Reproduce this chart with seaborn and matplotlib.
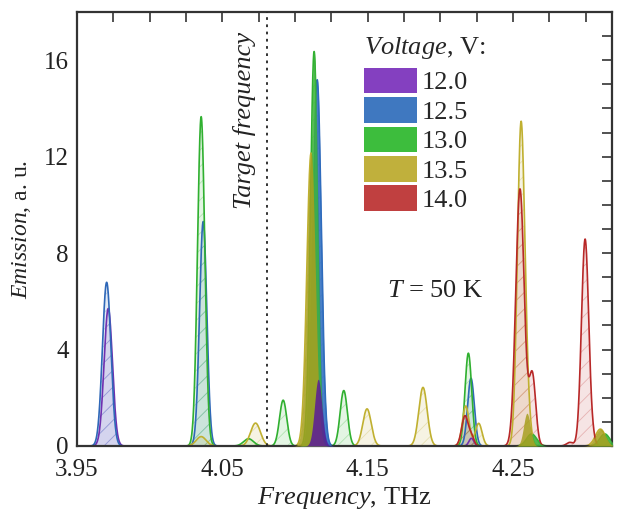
import numpy as np
import pandas as pd
import matplotlib
matplotlib.use("Agg")
import matplotlib.pyplot as plt
import seaborn as sns
from matplotlib.patches import Patch
from matplotlib.ticker import MultipleLocator, FixedLocator

# peaks: centre (THz), height (a.u.), width sigma (THz), solid fill?
voltages = ["12.0", "12.5", "13.0", "13.5", "14.0"]

v120_center = [3.9715, 4.1159, 4.2213]
v120_height = [5.7, 2.77, 0.32]
v120_sigma = [0.0029, 0.0025, 0.0017]
v120_solid = [False, True, False]

v125_center = [3.9704, 4.0368, 4.1152, 4.2210]
v125_height = [6.79, 9.31, 15.19, 2.81]
v125_sigma = [0.0029, 0.0025, 0.0028, 0.0023]
v125_solid = [False, False, True, False]

v130_center = [4.0354, 4.0680, 4.0918, 4.1131, 4.1335, 4.2192, 4.2627, 4.3130]
v130_height = [13.66, 0.3, 1.9, 16.36, 2.3, 3.85, 0.5, 0.5]
v130_sigma = [0.0025, 0.0034, 0.0025, 0.0025, 0.0025, 0.0023, 0.0034, 0.0034]
v130_solid = [False, False, False, True, False, False, True, True]

v135_center = [4.0354, 4.0728, 4.1110, 4.1495, 4.1880, 4.2174, 4.2263, 4.2554, 4.2595, 4.3100]
v135_height = [0.39, 0.95, 12.15, 1.54, 2.43, 1.66, 0.94, 13.18, 1.36, 0.7]
v135_sigma = [0.0034, 0.0034, 0.0029, 0.0029, 0.0029, 0.0023, 0.0023, 0.0025, 0.0023, 0.0034]
v135_solid = [False, False, True, False, False, False, False, False, True, True]

v140_center = [4.2169, 4.2215, 4.2547, 4.2632, 4.2890, 4.2995, 4.3050]
v140_height = [1.25, 0.35, 10.66, 2.95, 0.15, 8.58, 0.2]
v140_sigma = [0.0023, 0.0017, 0.0029, 0.0023, 0.0023, 0.0025, 0.0017]
v140_solid = [False, False, False, False, False, False, False]

legend_colors = ["#8440c0", "#3f78c0", "#3dbd3d", "#c0b03c", "#c04040"]
line_colors = ["#7030b0", "#2f68b8", "#30b030", "#c0b030", "#b82828"]
solid_colors = ["#5a1a9a", "#2f6ec0", "#3cb43c", "#a8a020", "#b83030"]

target_freq = 4.081

peaks = {
    "12.0": (v120_center, v120_height, v120_sigma, v120_solid),
    "12.5": (v125_center, v125_height, v125_sigma, v125_solid),
    "13.0": (v130_center, v130_height, v130_sigma, v130_solid),
    "13.5": (v135_center, v135_height, v135_sigma, v135_solid),
    "14.0": (v140_center, v140_height, v140_sigma, v140_solid),
}


def line_shape(f, c, h, s):
    return h * np.exp(-0.5 * ((f - c) / s) ** 2)


sns.set_theme(style="white")
plt.rcParams["font.family"] = ["Liberation Serif", "DejaVu Serif"]
plt.rcParams["mathtext.fontset"] = "custom"
plt.rcParams["mathtext.rm"] = "Liberation Serif"
plt.rcParams["mathtext.it"] = "Liberation Serif:italic"
plt.rcParams["hatch.linewidth"] = 0.6

freq = np.linspace(3.95, 4.32, 4000)
rows = []
for v in voltages:
    c, h, s, _ = peaks[v]
    total = sum(line_shape(freq, ci, hi, si) for ci, hi, si in zip(c, h, s))
    rows.append(pd.DataFrame({"freq": freq, "emission": total, "voltage": v}))
df = pd.concat(rows, ignore_index=True)

fig = plt.figure(figsize=(6.18, 5.16), dpi=100)
ax = fig.add_axes([77 / 618, 70 / 516, 535 / 618, 434 / 516])

# pale hatched fills under every spectrum
for i, v in enumerate(voltages):
    sub = df[df.voltage == v]
    rgb = matplotlib.colors.to_rgb(legend_colors[i])
    ax.fill_between(sub.freq, 0, sub.emission, facecolor=rgb + (0.14,),
                    edgecolor=rgb + (0.3,), hatch="//", linewidth=0, zorder=1)

sns.lineplot(data=df, x="freq", y="emission", hue="voltage", palette=line_colors,
             legend=False, linewidth=1.2, ax=ax, zorder=2)

# solid peaks
for i in [1, 2, 3, 0]:
    v = voltages[i]
    c, h, s, solid = peaks[v]
    for ci, hi, si, so in zip(c, h, s, solid):
        if so:
            ax.fill_between(freq, 0, line_shape(freq, ci, hi, si), color=solid_colors[i],
                            alpha=0.85, linewidth=0, zorder=3)

ax.axvline(target_freq, color="#222222", linestyle=(0, (1.5, 2.5)), linewidth=1.3, zorder=4)
ax.text(4.0655, 13.5, "Target frequency", rotation=90, ha="center", va="center",
        fontsize=19, style="italic", color="#222222")
ax.text(4.1967, 6.42, r"$\mathit{T}$ = 50 K", ha="center", va="center", fontsize=19,
        color="#222222")

ax.set_xlim(3.95, 4.318)
ax.set_ylim(0, 18)
ax.xaxis.set_major_locator(FixedLocator([3.95, 4.05, 4.15, 4.25]))
ax.xaxis.set_minor_locator(MultipleLocator(0.025))
ax.yaxis.set_major_locator(MultipleLocator(4))
ax.yaxis.set_minor_locator(MultipleLocator(1))
ax.set_xticklabels(["3.95", "4.05", "4.15", "4.25"])
ax.tick_params(which="both", direction="in", top=True, right=True, length=7,
               width=1.2, color="#333333", labelsize=18, labelcolor="#222222", pad=6)
ax.tick_params(axis="x", which="major", pad=9)
for sp in ax.spines.values():
    sp.set_linewidth(1.6)
    sp.set_color("#333333")

ax.set_xlabel(r"$\mathit{Frequency}$, THz", fontsize=19, color="#222222", labelpad=3)
ax.set_ylabel(r"$\mathit{Emission}$, a. u.", fontsize=17, color="#222222", labelpad=8)

handles = [Patch(facecolor=c, edgecolor="none") for c in legend_colors]
leg = ax.legend(handles, voltages, title=r"$\mathit{Voltage}$, V:", loc="upper left",
                bbox_to_anchor=(0.512, 0.978), frameon=False, fontsize=19,
                title_fontsize=19, handlelength=2.0, handleheight=1.12,
                labelspacing=0.1, handletextpad=0.2, borderpad=0)
leg._legend_box.align = "left"
leg._legend_box.sep = 5

fig.savefig("out.png", dpi=100)
